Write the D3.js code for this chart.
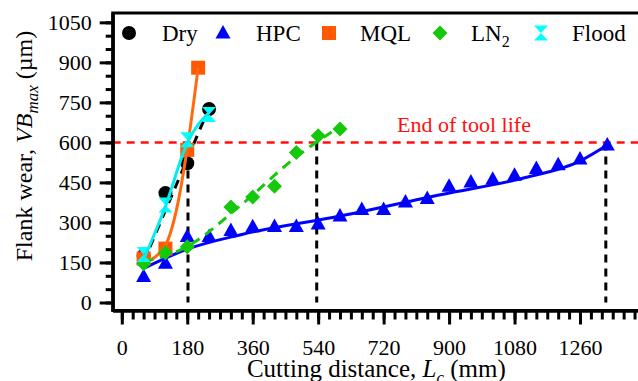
<!DOCTYPE html>
<html>
<head>
<meta charset="utf-8">
<script src="https://cdn.jsdelivr.net/npm/d3@7"></script>
<style>
  body { margin: 0; background: #fff; }
  svg { display: block; font-family: "Liberation Serif", "Times New Roman", serif; }
  svg .tick text { font-family: "Liberation Serif", "Times New Roman", serif; font-size: 22px; fill: #000; }
</style>
</head>
<body>
<div id="chart"></div>
<script>
// measured points, [cutting distance (mm), flank wear (um)]
const dry   = [[60, 175], [120, 410], [180, 522], [240, 725]]
const hpc   = [[60, 97], [120, 147], [180, 247], [240, 247], [300, 270], [360, 284], [420, 285], [480, 285],
               [540, 294], [600, 324], [660, 349], [720, 349], [780, 377], [840, 390], [900, 436], [960, 452],
               [1020, 462], [1080, 477], [1140, 502], [1200, 516], [1260, 538], [1335, 590]]
const mql   = [[60, 165], [120, 202], [180, 572], [210, 880]]
const ln2   = [[60, 145], [120, 186], [180, 209], [300, 358], [360, 395], [420, 436], [480, 562], [540, 625], [600, 650]]
const flood = [[60, 180], [120, 365], [180, 610], [240, 705]]

// fitted trend lines
const dryFit   = [[60, 152], [240, 730]]
const hpcFit   = [[60, 128], [180, 200], [330, 255], [600, 324], [880, 405], [1100, 465], [1260, 530], [1335, 590]]
const mqlFit   = [[60, 148], [120, 215], [150, 345], [180, 578], [210, 880]]
const ln2Fit   = [[60, 152], [180, 210], [330, 368], [480, 546], [600, 660]]
const floodFit = [[58, 155], [120, 360], [180, 598], [240, 712]]

const toolLife = 600
const lifeX = [182, 536, 1331]

const xMajor = [0, 180, 360, 540, 720, 900, 1080, 1260]
const yMajor = [0, 150, 300, 450, 600, 750, 900, 1050]
const xMinor = d3.range(0, 1411, 30)
const yMinor = d3.range(0, 1051, 50)

const W = 638, H = 381
const plotL = 112.7, plotR = 640, plotT = 13, plotB = 310.5

const svg = d3.select('#chart').append('svg')
  .attr('width', W)
  .attr('height', H)

const x = d3.scaleLinear().domain([-25, 1425]).range([plotL, plotR])
const y = d3.scaleLinear().domain([-30, 1085]).range([plotB, plotT])

const line = d3.line().x(d => x(d[0])).y(d => y(d[1]))

// reference lines
svg.append('line')
  .attr('x1', plotL).attr('x2', plotR)
  .attr('y1', y(toolLife)).attr('y2', y(toolLife))
  .attr('stroke', '#ff1010').attr('stroke-width', 2.5)
  .attr('stroke-dasharray', '8,6')

svg.selectAll('.life')
  .data(lifeX)
  .enter().append('line')
    .attr('class', 'life')
    .attr('x1', d => x(d)).attr('x2', d => x(d))
    .attr('y1', y(toolLife)).attr('y2', y(0))
    .attr('stroke', '#000').attr('stroke-width', 3)
    .attr('stroke-dasharray', '8,6')

svg.append('text')
  .attr('x', 464).attr('y', 131.5)
  .attr('text-anchor', 'middle')
  .attr('font-size', 22)
  .attr('fill', '#ff1010')
  .text('End of tool life')

// marker shapes
const shapes = {
  circle: 'M7,0A7,7 0 1,1 -7,0A7,7 0 1,1 7,0Z',
  triangle: 'M0,-8L7.5,5.5L-7.5,5.5Z',
  square: 'M-7,-7L7,-7L7,7L-7,7Z',
  diamond: 'M0,-7.5L7.5,0L0,7.5L-7.5,0Z',
  hourglass: 'M-7,-7.5L7,-7.5L-7,7.5L7,7.5Z'
}

const series = [
  { name: 'Dry', pts: dry, fit: dryFit, color: '#000000', lineColor: '#000000', dash: '9,7', shape: 'circle', curve: d3.curveLinear },
  { name: 'HPC', pts: hpc, fit: hpcFit, color: '#0000ff', lineColor: '#0000ff', dash: null, shape: 'triangle', curve: d3.curveMonotoneX },
  { name: 'MQL', pts: mql, fit: mqlFit, color: '#ff5a00', lineColor: '#ff6a10', dash: null, shape: 'square', curve: d3.curveMonotoneX },
  { name: 'LN2', pts: ln2, fit: ln2Fit, color: '#16c80c', lineColor: '#16c80c', dash: '10,7', shape: 'diamond', curve: d3.curveMonotoneX },
  { name: 'Flood', pts: flood, fit: floodFit, color: '#00ffff', lineColor: '#00eeee', dash: null, shape: 'hourglass', curve: d3.curveMonotoneX }
]

series.forEach(s => {
  const g = svg.append('g')
  g.selectAll('path.pt')
    .data(s.pts)
    .enter().append('path')
      .attr('class', 'pt')
      .attr('d', shapes[s.shape])
      .attr('transform', d => `translate(${x(d[0])},${y(d[1])})`)
      .attr('fill', s.color)
  g.append('path')
    .datum(s.fit)
    .attr('d', line.curve(s.curve))
    .attr('fill', 'none')
    .attr('stroke', s.lineColor)
    .attr('stroke-width', 3)
    .attr('stroke-dasharray', s.dash)
})

// axes
const fmt = d3.format('d')
svg.append('g').attr('transform', `translate(${plotL},0)`)
  .call(d3.axisLeft(y).tickValues(yMajor).tickFormat(fmt).tickSize(13).tickSizeOuter(0).tickPadding(8))
svg.append('g').attr('transform', `translate(${plotL},0)`)
  .call(d3.axisLeft(y).tickValues(yMinor).tickSize(7).tickSizeOuter(0).tickFormat(''))
svg.append('g').attr('transform', `translate(0,${plotB})`)
  .call(d3.axisBottom(x).tickValues(xMajor).tickFormat(fmt).tickSize(14).tickSizeOuter(0).tickPadding(15))
svg.append('g').attr('transform', `translate(0,${plotB})`)
  .call(d3.axisBottom(x).tickValues(xMinor).tickSize(9).tickSizeOuter(0).tickFormat(''))

svg.selectAll('.tick line').attr('stroke', '#000').attr('stroke-width', 3)
svg.selectAll('.domain').attr('stroke', '#000').attr('stroke-width', 3)

// left/bottom spine corner and top frame
svg.append('path')
  .attr('d', `M${plotL},${plotT}V${plotB}H${plotR}M${plotL},${plotT}H${plotR}`)
  .attr('fill', 'none').attr('stroke', '#000').attr('stroke-width', 3)
  .attr('stroke-linecap', 'square')

// axis titles
const xTitle = svg.append('text')
  .attr('x', (plotL + plotR) / 2).attr('y', 377)
  .attr('text-anchor', 'middle')
  .attr('font-size', 25)
xTitle.append('tspan').text('Cutting distance, ')
xTitle.append('tspan').attr('font-style', 'italic').text('L')
xTitle.append('tspan').attr('font-style', 'italic').attr('font-size', 17).attr('dy', 6).text('c')
xTitle.append('tspan').attr('dy', -6).text(' (mm)')

const yTitle = svg.append('text')
  .attr('transform', `translate(32,146) rotate(-90)`)
  .attr('text-anchor', 'middle')
  .attr('font-size', 24)
yTitle.append('tspan').text('Flank wear, ')
yTitle.append('tspan').attr('font-style', 'italic').text('VB')
yTitle.append('tspan').attr('font-style', 'italic').attr('font-size', 17).attr('dy', 6).text('max')
yTitle.append('tspan').attr('dy', -6).text(' (\u00b5m)')

// legend
const legendMarkX = [129, 223, 329, 440, 541]
const legendTextX = [162, 256, 360, 471, 572]
const legY = 33

const leg = svg.append('g').selectAll('g')
  .data(series)
  .enter().append('g')

leg.append('path')
  .attr('d', d => shapes[d.shape])
  .attr('transform', (d, i) => `translate(${legendMarkX[i]},${legY})`)
  .attr('fill', d => d.color)

leg.append('text')
  .attr('x', (d, i) => legendTextX[i])
  .attr('y', legY + 8)
  .attr('font-size', 23)
  .each(function (d) {
    const t = d3.select(this)
    if (d.name === 'LN2') {
      t.append('tspan').text('LN')
      t.append('tspan').attr('font-size', 16).attr('dy', 6).text('2')
    } else {
      t.text(d.name)
    }
  })
</script>
</body>
</html>
